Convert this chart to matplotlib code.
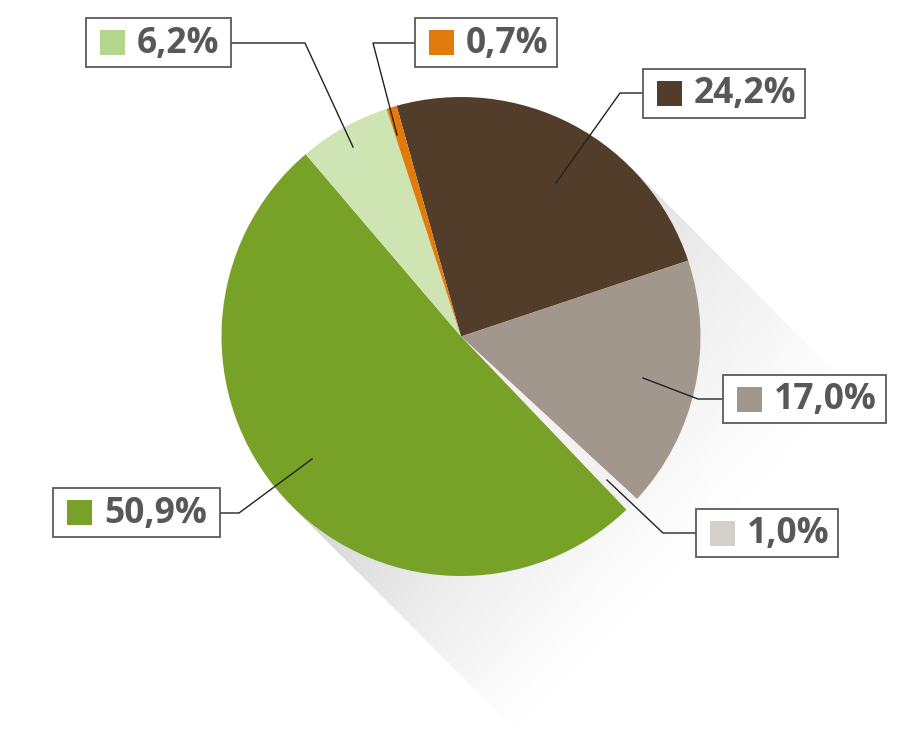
import numpy as np
import matplotlib
matplotlib.use("Agg")
import matplotlib.pyplot as plt
from matplotlib.patches import Rectangle

# slice values, clockwise from the top
labels = ["24,2%", "17,0%", "1,0%", "50,9%", "6,2%", "0,7%"]
values = [24.2, 17.0, 1.0, 50.9, 6.2, 0.7]
slice_colors = ["#523d2b", "#a2978c", "#f3f1ef", "#78a128", "#cfe4b3", "#e07b0c"]
key_colors = ["#523d2b", "#a2978c", "#d3cfcb", "#78a128", "#b2d68c", "#e07b0c"]

W, H = 914, 747
cx, cy, R = 461, 336.5, 239.5   # pie centre / radius in pixels (y down)

def fy(y):
    return H - y

fig = plt.figure(figsize=(W / 100, H / 100), dpi=100)
ax = fig.add_axes([0, 0, 1, 1])

# long diagonal shadow behind the pie
yy, xx = np.mgrid[0:H, 0:W] + 0.5
dx = xx - cx
dy = yy - cy
s = (dx + dy) / np.sqrt(2)
p = (dy - dx) / np.sqrt(2)
fade = np.clip(1 - s / 330, 0, 1) ** 1.2
side = 0.7 + 0.3 * (p + R) / (2 * R)
alpha = np.where((np.abs(p) <= R) & (s >= 0), 0.18 * fade * side, 0)
shadow = np.zeros((H, W, 4))
shadow[..., 3] = alpha
ax.imshow(shadow, extent=(0, W, 0, H), origin="upper", zorder=0, interpolation="bilinear")

ax.pie(values, colors=slice_colors, startangle=105.6, counterclock=False,
       center=(cx, fy(cy)), radius=R, wedgeprops=dict(linewidth=0),
       frame=True)
ax.set_xlim(0, W)
ax.set_ylim(0, H)
ax.set_aspect("equal")
ax.axis("off")

# label boxes: (x0, y0, x1, y1) in pixels, and leader line points
boxes = [
    (643, 69, 805, 118),
    (723, 375, 886, 423),
    (696, 509, 838, 557),
    (53, 488, 220, 537),
    (86, 18, 231, 67),
    (415, 18, 557, 67),
]
leaders = [
    [(643, 93), (620, 93), (556, 183)],
    [(723, 399), (698, 399), (643, 378)],
    [(696, 533), (663, 533), (607, 480)],
    [(220, 513), (239, 513), (312, 459)],
    [(231, 43), (305, 43), (353, 147)],
    [(415, 43), (373, 43), (397, 135)],
]

for lab, kc, (x0, y0, x1, y1), pts in zip(labels, key_colors, boxes, leaders):
    ax.add_patch(Rectangle((x0, fy(y1)), x1 - x0, y1 - y0, facecolor="white",
                           edgecolor="#5a5a5a", linewidth=1.3, zorder=5))
    ym = (y0 + y1) / 2
    ax.add_patch(Rectangle((x0 + 14, fy(ym + 12.5)), 25, 25, facecolor=kc,
                           edgecolor="none", zorder=6))
    ax.text(x0 + 51, fy(ym) - 1, lab, fontsize=25.5, fontweight="bold",
            family="Open Sans", color="#58585a", va="center", ha="left", zorder=6)
    px, py = zip(*pts)
    ax.plot(px, [fy(v) for v in py], color="#222222", linewidth=1.0, zorder=4)

fig.savefig("out.png", dpi=100, facecolor="white")
